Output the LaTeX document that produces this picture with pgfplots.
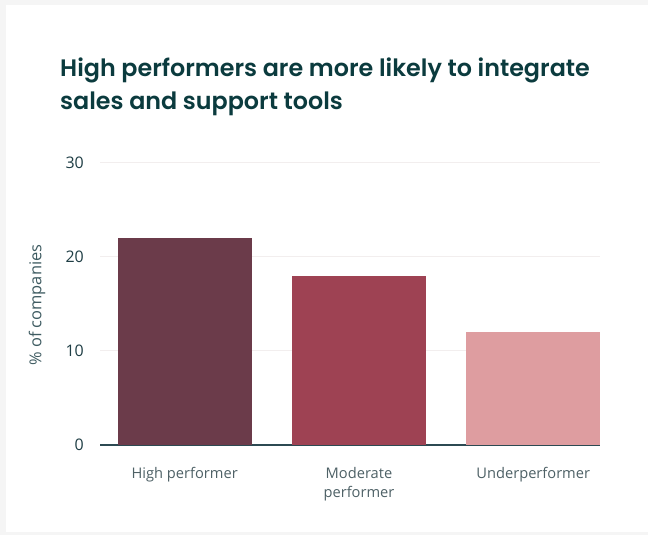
\documentclass[border=0pt]{standalone}
\usepackage{pgfplots}
\pgfplotsset{compat=1.18}
\usepackage{fontspec}
\setmainfont{Open Sans}
\newfontfamily\titlefont{Poppins SemiBold}
\definecolor{bgc}{HTML}{F5F5F5}
\definecolor{titlec}{HTML}{0B3B3E}
\definecolor{tickc}{HTML}{1F3E45}
\definecolor{labc}{HTML}{4E6166}
\definecolor{ylabc}{HTML}{3F5C62}
\definecolor{gridc}{HTML}{F2EEEE}
\definecolor{axc}{HTML}{2C4A52}
\definecolor{cA}{HTML}{6B3B4A}
\definecolor{cB}{HTML}{9E4253}
\definecolor{cC}{HTML}{DE9DA0}
\begin{document}
\begin{tikzpicture}[x=1bp,y=1bp]
\fill[bgc] (0,0) rectangle (648,535);
\fill[white] (6,3) rectangle (648,530);
\node[anchor=base west, inner sep=0pt, text=titlec, font=\titlefont\fontsize{23.9}{33}\selectfont] at (60,458) {High performers are more likely to integrate};
\node[anchor=base west, inner sep=0pt, text=titlec, font=\titlefont\fontsize{23.9}{33}\selectfont] at (60,425) {sales and support tools};
\begin{axis}[
  at={(100bp,90bp)}, anchor=south west,
  scale only axis, width=500bp, height=282bp,
  ymin=0, ymax=30, xmin=-0.486, xmax=2.383,
  ytick={0,10,20,30}, xtick={0,1,2},
  xticklabels={High performer, Moderate\\performer, Underperformer},
  major tick length=0pt,
  axis lines*=left,
  y axis line style={draw=none},
  x axis line style={draw=axc, line width=1.5bp},
  ymajorgrids, grid style={draw=gridc, line width=1bp},
  /pgf/number format/assume math mode=true,
  yticklabel style={inner sep=0pt, anchor=east, xshift=-16bp, text=tickc, font=\fontsize{16}{16}\selectfont},
  xticklabel style={inner sep=0pt, anchor=north, yshift=-22bp, align=center, text=labc, font=\fontsize{14.7}{19.5}\selectfont},
  every axis y label/.style={at={(axis description cs:-0.126,0.496)}, anchor=center, rotate=90},
  ylabel={\% of companies},
  ylabel style={text=ylabc, font=\fontsize{16.5}{18}\selectfont},
]
\addplot[ybar, bar width=134bp, bar shift=0pt, fill=cA, draw=none] coordinates {(0,22)};
\addplot[ybar, bar width=134bp, bar shift=0pt, fill=cB, draw=none] coordinates {(1,18)};
\addplot[ybar, bar width=134bp, bar shift=0pt, fill=cC, draw=none] coordinates {(2,12)};
\end{axis}
\end{tikzpicture}
\end{document}
